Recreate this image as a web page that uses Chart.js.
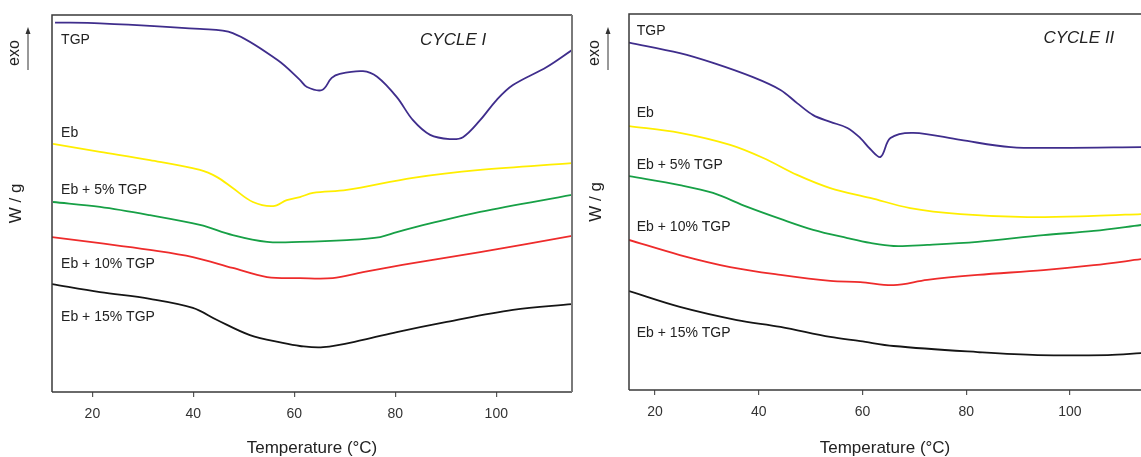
<!DOCTYPE html>
<html><head><meta charset="utf-8">
<script src="https://cdn.jsdelivr.net/npm/chart.js@4.4.1/dist/chart.umd.min.js"></script>
<style>
html,body{margin:0;padding:0;background:#fff;}
#wrap{position:relative;width:1141px;height:457px;overflow:hidden;background:#fff;}
canvas{position:absolute;top:0;}
</style></head><body>
<div id="wrap">
<canvas id="c1" width="580" height="457" style="left:0;width:580px;height:457px"></canvas>
<canvas id="c2" width="561" height="457" style="left:580px;width:561px;height:457px"></canvas>
</div>
<script>
// ---------- data (temperature in °C, heat flow in arbitrary units, exo up) ----------
const tickLabels = [20, 40, 60, 80, 100];
const seriesNames = ['TGP', 'Eb', 'Eb + 5% TGP', 'Eb + 10% TGP', 'Eb + 15% TGP'];

// CYCLE I
const c1_TGP_T  = [12.6, 21.5, 41.3, 47.8, 56.6, 61.1, 62.5, 65.5, 67.4, 69.0, 73.6, 76.4, 80.3, 83.5, 86.9, 90.8, 93.4, 96.8, 100.1, 103.3, 110.0, 115.0];
const c1_TGP_V  = [98.0, 97.8, 96.3, 95.2, 88.1, 82.8, 80.9, 80.1, 83.3, 84.4, 85.1, 83.6, 78.2, 72.1, 68.2, 67.1, 67.6, 72.1, 77.5, 81.4, 86.2, 90.7];
const c1_Eb_T   = [12.2, 21.5, 31.4, 41.3, 44.7, 47.8, 51.8, 55.8, 58.5, 61.1, 63.7, 70.4, 83.5, 96.8, 115];
const c1_Eb_V   = [65.8, 63.7, 61.5, 58.9, 57.0, 54.1, 50.4, 49.3, 50.9, 51.7, 52.8, 53.6, 56.8, 58.9, 60.7];
const c1_Eb5_T  = [12.2, 21.5, 31.4, 41.3, 47.8, 54.6, 61.1, 70.4, 77.0, 80.3, 86.9, 96.8, 115];
const c1_Eb5_V  = [50.4, 49.1, 46.9, 44.3, 41.6, 39.8, 39.8, 40.3, 41.1, 42.4, 44.7, 47.8, 52.3];
const c1_Eb10_T = [12, 21.5, 31.4, 39.9, 47.8, 54.6, 61.1, 67.6, 73.6, 83.5, 96.8, 115];
const c1_Eb10_V = [41.1, 39.5, 37.7, 35.8, 32.9, 30.5, 30.2, 30.2, 31.8, 34.2, 37.1, 41.4];
const c1_Eb15_T = [12, 21.5, 31.4, 39.9, 44.7, 51.2, 57.7, 61.1, 65.7, 73.6, 80.3, 90.2, 103.3, 115];
const c1_Eb15_V = [28.6, 26.5, 24.7, 22.3, 19.1, 15.1, 13.0, 12.2, 11.9, 13.8, 15.9, 18.6, 21.8, 23.3];

// CYCLE II
const c2_TGP_T  = [15, 24.8, 31.2, 38.9, 44.2, 47.4, 50.5, 53.8, 57.1, 59.6, 61.5, 63.5, 65.4, 69.8, 78.9, 88.6, 98.2, 113.8];
const c2_TGP_V  = [92.4, 89.6, 87.0, 83.2, 79.8, 76.3, 73.1, 71.3, 69.7, 67.0, 64.1, 62.0, 67.0, 68.4, 66.5, 64.6, 64.4, 64.6];
const c2_Eb_T   = [15, 24.8, 34.5, 40.9, 47.4, 53.8, 61.5, 69.2, 78.9, 91.8, 104.6, 113.8];
const c2_Eb_V   = [70.2, 68.4, 65.2, 61.7, 57.2, 53.7, 51.1, 48.4, 46.8, 46.0, 46.3, 46.8];
const c2_Eb5_T  = [15, 24.8, 31.2, 37.8, 44.2, 50.5, 57.1, 61.5, 66.0, 72.5, 82.2, 94.9, 104.6, 113.8];
const c2_Eb5_V  = [56.9, 54.5, 52.4, 48.7, 45.5, 42.6, 40.4, 39.1, 38.3, 38.6, 39.4, 41.2, 42.3, 43.9];
const c2_Eb10_T = [15, 24.8, 34.5, 44.2, 53.8, 59.6, 66.0, 72.5, 82.2, 94.9, 104.6, 113.8];
const c2_Eb10_V = [39.9, 35.9, 32.7, 30.6, 29.0, 28.7, 27.9, 29.3, 30.6, 31.9, 33.2, 34.8];
const c2_Eb15_T = [15, 24.8, 35.8, 44.2, 53.8, 59.6, 66.0, 82.2, 93.8, 107.3, 113.8];
const c2_Eb15_V = [26.3, 22.1, 18.6, 16.8, 14.1, 13.0, 11.7, 10.1, 9.3, 9.3, 9.8];

// label anchor positions (data units)
const c1_labelT = 13.8, c1_labelV = [93.4, 68.7, 53.6, 34.0, 19.9];
const c2_labelT = 16.5, c2_labelV = [95.5, 73.7, 59.8, 43.4, 15.2];

// ---------- rendering ----------
const FONT = '"Liberation Sans", Arial, Helvetica, sans-serif';
const COLORS = ['#3f2d8c', '#ffee00', '#17a046', '#ee2b2b', '#151515'];

function pts(T, V) { return T.map((t, i) => ({ x: t, y: V[i] })); }

const decoPlugin = {
  id: 'deco',
  afterDatasetsDraw(chart, args, o) {
    const ctx = chart.ctx, a = chart.chartArea, xs = chart.scales.x, ys = chart.scales.y;
    ctx.save();
    // frame
    ctx.lineWidth = 1.5;
    ctx.strokeStyle = '#3a3a3a';
    ctx.beginPath();
    ctx.moveTo(a.left, a.bottom); ctx.lineTo(a.left, a.top); ctx.lineTo(a.right, a.top);
    ctx.moveTo(a.left, a.bottom); ctx.lineTo(a.right, a.bottom);
    ctx.stroke();
    if (o.rightBorder) {
      ctx.strokeStyle = '#7a7a7a'; ctx.lineWidth = 2;
      ctx.beginPath(); ctx.moveTo(a.right, a.top); ctx.lineTo(a.right, a.bottom); ctx.stroke();
    }
    // curve labels
    ctx.font = '14px ' + FONT; ctx.fillStyle = '#222'; ctx.textAlign = 'left'; ctx.textBaseline = 'middle';
    o.names.forEach((t, i) => ctx.fillText(t, xs.getPixelForValue(o.labelT), ys.getPixelForValue(o.labelV[i])));
    // cycle title
    ctx.font = 'italic 17px ' + FONT;
    ctx.fillText(o.title, xs.getPixelForValue(o.titleT), ys.getPixelForValue(o.titleV));
    // exo arrow
    ctx.save();
    ctx.translate(15, 53); ctx.rotate(-Math.PI / 2);
    ctx.font = '16px ' + FONT; ctx.textAlign = 'center'; ctx.fillStyle = '#222';
    ctx.fillText('exo', 0, 0);
    ctx.restore();
    ctx.strokeStyle = '#333'; ctx.lineWidth = 1;
    ctx.beginPath(); ctx.moveTo(28, 70); ctx.lineTo(28, 30); ctx.stroke();
    ctx.fillStyle = '#333';
    ctx.beginPath(); ctx.moveTo(28, 27); ctx.lineTo(25.5, 34); ctx.lineTo(30.5, 34); ctx.closePath(); ctx.fill();
    ctx.restore();
  }
};

function makeChart(id, sets, xmin, xmax, padTop, padRight, yWidth, xHeight, deco) {
  return new Chart(document.getElementById(id), {
    type: 'line',
    data: {
      datasets: sets.map((s, i) => ({
        label: seriesNames[i], data: pts(s[0], s[1]), borderColor: COLORS[i],
        borderWidth: 1.8, pointRadius: 0, fill: false, tension: 0.35
      }))
    },
    options: {
      responsive: false, animation: false, events: [],
      layout: { padding: { top: padTop, right: padRight, left: 0, bottom: 0 } },
      plugins: { legend: { display: false }, tooltip: { enabled: false }, deco: deco },
      scales: {
        x: {
          type: 'linear', min: xmin, max: xmax, position: 'bottom',
          afterBuildTicks: s => { s.ticks = tickLabels.map(v => ({ value: v })); },
          afterFit: s => { s.height = xHeight; },
          ticks: { font: { size: 14, family: FONT }, color: '#333', padding: 9, maxRotation: 0, autoSkip: false },
          grid: { display: true, drawOnChartArea: false, drawTicks: true, tickLength: 5, color: '#555', lineWidth: 1.2 },
          border: { display: false },
          title: { display: true, text: 'Temperature (°C)', font: { size: 17, family: FONT, lineHeight: 1.05 }, color: '#222', padding: { top: 0, bottom: 0 } }
        },
        y: {
          type: 'linear', min: 0, max: 100,
          afterFit: s => { s.width = yWidth; },
          ticks: { display: false },
          grid: { display: false },
          border: { display: false },
          title: { display: true, text: 'W / g', font: { size: 17, family: FONT }, color: '#222', padding: { top: 6, bottom: 0 } }
        }
      }
    },
    plugins: [decoPlugin]
  });
}

makeChart('c1', [[c1_TGP_T, c1_TGP_V], [c1_Eb_T, c1_Eb_V], [c1_Eb5_T, c1_Eb5_V], [c1_Eb10_T, c1_Eb10_V], [c1_Eb15_T, c1_Eb15_V]],
  12, 115, 15, 8, 52, 65,
  { names: seriesNames, labelT: c1_labelT, labelV: c1_labelV, title: 'CYCLE I', titleT: 84.9, titleV: 93.4, rightBorder: true });

makeChart('c2', [[c2_TGP_T, c2_TGP_V], [c2_Eb_T, c2_Eb_V], [c2_Eb5_T, c2_Eb5_V], [c2_Eb10_T, c2_Eb10_V], [c2_Eb15_T, c2_Eb15_V]],
  15, 113.7, 14, 0, 49, 67,
  { names: seriesNames, labelT: c2_labelT, labelV: c2_labelV, title: 'CYCLE II', titleT: 94.9, titleV: 93.6, rightBorder: false });
</script>
</body></html>
